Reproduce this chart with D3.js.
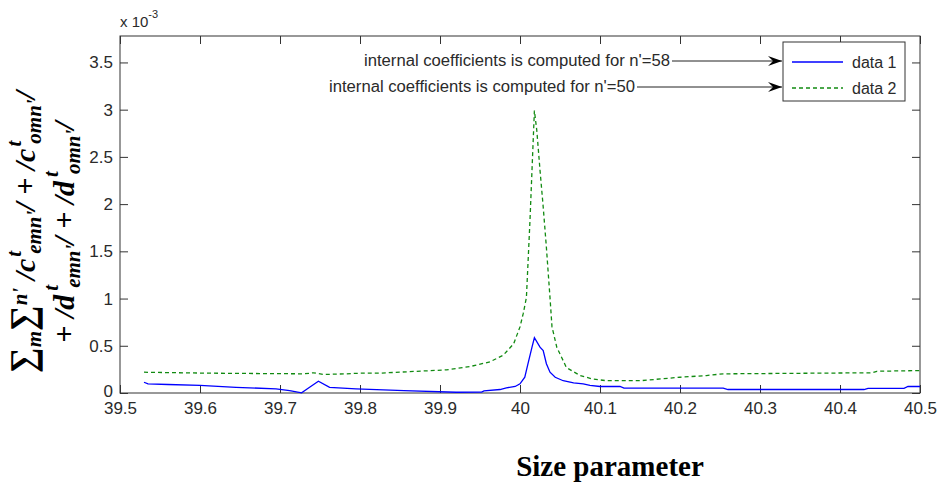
<!DOCTYPE html>
<html>
<head>
<meta charset="utf-8">
<script src="https://cdn.jsdelivr.net/npm/d3@7"></script>
<style>
  body { margin: 0; background: #fff; }
  svg text { font-family: "Liberation Sans", Arial, sans-serif; }
</style>
</head>
<body>
<div id="chart"></div>
<script>
// data 1 : internal coefficients computed for n'=58 (values x 1e-3)
var size1 = [39.53, 39.535, 39.56, 39.60, 39.645, 39.695, 39.712, 39.727, 39.737, 39.748,
  39.762, 39.795, 39.855, 39.92, 39.952, 39.955, 39.975, 39.983, 39.994, 40.000,
  40.006, 40.010, 40.015, 40.018, 40.025, 40.029, 40.033, 40.0375, 40.044, 40.054,
  40.067, 40.079, 40.0875, 40.10, 40.125, 40.13, 40.254, 40.26, 40.43, 40.435,
  40.48, 40.485, 40.5];
var data1 = [0.114, 0.097, 0.09, 0.08, 0.06, 0.044, 0.026, 0.002, 0.06, 0.125,
  0.06, 0.044, 0.026, 0.008, 0.010, 0.022, 0.037, 0.055, 0.069, 0.097,
  0.167, 0.31, 0.485, 0.585, 0.485, 0.45, 0.31, 0.22, 0.167, 0.13,
  0.108, 0.097, 0.08, 0.069, 0.069, 0.051, 0.051, 0.037, 0.037, 0.05,
  0.05, 0.069, 0.069];

// data 2 : internal coefficients computed for n'=50 (values x 1e-3)
var size2 = [39.53, 39.61, 39.73, 39.742, 39.754, 39.783, 39.80, 39.825, 39.867, 39.908,
  39.9375, 39.9625, 39.979, 39.992, 40.0, 40.004, 40.008, 40.0125, 40.017, 40.018,
  40.021, 40.025, 40.029, 40.033, 40.0375, 40.040, 40.046, 40.058, 40.075, 40.09,
  40.108, 40.15, 40.20, 40.233, 40.254, 40.44, 40.446, 40.5];
var data2 = [0.22, 0.21, 0.203, 0.214, 0.196, 0.203, 0.21, 0.21, 0.228, 0.245,
  0.28, 0.33, 0.40, 0.52, 0.70, 0.84, 1.01, 1.83, 2.78, 2.99,
  2.78, 2.36, 1.97, 1.54, 1.01, 0.70, 0.485, 0.27, 0.185, 0.15,
  0.13, 0.13, 0.167, 0.185, 0.203, 0.214, 0.23, 0.238];

var xTicks = [39.5, 39.6, 39.7, 39.8, 39.9, 40, 40.1, 40.2, 40.3, 40.4, 40.5];
var yTicks = [0, 0.5, 1, 1.5, 2, 2.5, 3, 3.5];
var seriesNames = ['data 1', 'data 2'];
var notes = ["internal coefficients is computed for n'=58", "internal coefficients is computed for n'=50"];

var W = 939, H = 487;
var margin = {left: 120, right: 19, top: 36, bottom: 94};
var width = W - margin.left - margin.right,
    height = H - margin.top - margin.bottom;

var svg = d3.select('#chart').append('svg')
  .attr('width', W).attr('height', H);

svg.append('defs').append('marker')
  .attr('id', 'arrow')
  .attr('viewBox', '0 0 14 10')
  .attr('refX', 14).attr('refY', 5)
  .attr('markerWidth', 14).attr('markerHeight', 10)
  .attr('markerUnits', 'userSpaceOnUse')
  .attr('orient', 'auto')
  .append('path')
  .attr('d', 'M0,0 L14,5 L0,10 L5,5 Z')
  .attr('fill', '#000');

var x = d3.scaleLinear().domain([39.5, 40.5]).range([0, width]);
var y = d3.scaleLinear().domain([0, 3.78]).range([height, 0]);

var g = svg.append('g')
  .attr('transform', 'translate(' + margin.left + ',' + margin.top + ')');

// frame
g.append('rect')
  .attr('width', width).attr('height', height)
  .attr('fill', 'none').attr('stroke', '#333').attr('stroke-width', 1);

// axes (ticks inward, mirrored)
var axisBottom = g.append('g')
  .attr('transform', 'translate(0,' + height + ')')
  .call(d3.axisBottom(x).tickValues(xTicks).tickSize(-8).tickPadding(12)
    .tickFormat(function(d) { return String(+d.toFixed(1)); }));
var axisTop = g.append('g')
  .call(d3.axisTop(x).tickValues(xTicks).tickSize(-8).tickFormat(''));
var axisLeft = g.append('g')
  .call(d3.axisLeft(y).tickValues(yTicks).tickSize(-8).tickPadding(7)
    .tickFormat(function(d) { return String(d); }));
var axisRight = g.append('g')
  .attr('transform', 'translate(' + width + ',0)')
  .call(d3.axisRight(y).tickValues(yTicks).tickSize(-8).tickFormat(''));

[axisBottom, axisTop, axisLeft, axisRight].forEach(function(a) {
  a.select('.domain').remove();
  a.selectAll('.tick line').attr('stroke', '#333');
  a.selectAll('.tick text')
    .attr('fill', '#2a2a2a')
    .style('font-size', '17px')
    .style('font-family', '"Liberation Sans", Arial, sans-serif');
});
axisBottom.selectAll('.tick text').attr('dy', '0.55em');
axisLeft.selectAll('.tick text').filter(function(d) { return d === 0; }).attr('dy', '0.2em');

// exponent label
var expo = svg.append('text')
  .attr('x', margin.left).attr('y', 27)
  .attr('fill', '#2a2a2a')
  .style('font-size', '15px');
expo.append('tspan').text('x 10');
expo.append('tspan').attr('dy', -9).style('font-size', '11px').text('-3');

// lines
var line = d3.line()
  .x(function(d) { return x(d[0]); })
  .y(function(d) { return y(d[1]); });

g.append('path')
  .datum(d3.zip(size2, data2))
  .attr('d', line)
  .attr('fill', 'none')
  .attr('stroke', '#118a11')
  .attr('stroke-width', 1.3)
  .attr('stroke-dasharray', '4,3');

g.append('path')
  .datum(d3.zip(size1, data1))
  .attr('d', line)
  .attr('fill', 'none')
  .attr('stroke', '#0000ff')
  .attr('stroke-width', 1.3);

// legend
var lg = svg.append('g').attr('transform', 'translate(783,42)');
lg.append('rect')
  .attr('width', 122).attr('height', 59)
  .attr('fill', '#fff').attr('stroke', '#333');
var styles = [{c: '#0000ff', dash: null}, {c: '#118a11', dash: '4,3'}];
seriesNames.forEach(function(name, i) {
  var yy = 20 + i * 26;
  lg.append('line')
    .attr('x1', 9).attr('x2', 60).attr('y1', yy).attr('y2', yy)
    .attr('stroke', styles[i].c).attr('stroke-width', 1.3)
    .attr('stroke-dasharray', styles[i].dash);
  lg.append('text')
    .attr('x', 69).attr('y', yy + 6)
    .attr('fill', '#2a2a2a')
    .style('font-size', '16px')
    .text(name);
});

// annotations with arrows
var noteY = [61, 87];
var noteEnd = [670, 635];
notes.forEach(function(t, i) {
  svg.append('text')
    .attr('x', noteEnd[i]).attr('y', noteY[i] + 5)
    .attr('text-anchor', 'end')
    .attr('fill', '#2a2a2a')
    .style('font-size', '16px')
    .attr('textLength', 306)
    .attr('lengthAdjust', 'spacingAndGlyphs')
    .text(t);
  svg.append('line')
    .attr('x1', noteEnd[i] + 2).attr('x2', 782)
    .attr('y1', noteY[i]).attr('y2', noteY[i])
    .attr('stroke', '#222').attr('stroke-width', 1)
    .attr('marker-end', 'url(#arrow)');
});

// x label
svg.append('text')
  .attr('x', 610).attr('y', 476)
  .attr('text-anchor', 'middle')
  .style('font-family', '"Liberation Serif", "Times New Roman", serif')
  .style('font-weight', 'bold')
  .style('font-size', '29px')
  .text('Size parameter');

// y label (two lines, TeX-like)
function addPart(txt, parts) {
  parts.forEach(function(p) {
    var ts = txt.append('tspan').text(p.t);
    if (p.dy) ts.attr('dy', p.dy);
    if (p.dx) ts.attr('dx', p.dx);
    if (p.fs) ts.style('font-size', p.fs);
  });
}
var yl = svg.append('g').attr('transform', 'translate(0,232) rotate(-90)');
var l1 = yl.append('text')
  .attr('x', 0).attr('y', 35)
  .attr('text-anchor', 'middle')
  .style('font-family', '"Liberation Serif", "Times New Roman", serif')
  .style('font-weight', 'bold').style('font-style', 'italic')
  .style('font-size', '30px');
addPart(l1, [
  {t: '\u2211', fs: '36px'},
  {t: 'm', fs: '21px', dy: 6},
  {t: '\u2211', fs: '36px', dy: -6},
  {t: "n'", fs: '21px', dy: -8},
  {t: ' /c', dy: 8},
  {t: 't', fs: '21px', dy: -14, dx: 2},
  {t: "emn'", fs: '21px', dy: 20, dx: -3},
  {t: '/ + /c', dy: -6},
  {t: 't', fs: '21px', dy: -14, dx: 2},
  {t: "omn'", fs: '21px', dy: 20, dx: -3},
  {t: '/', dy: -6}
]);
var l2 = yl.append('text')
  .attr('x', 0).attr('y', 74)
  .attr('text-anchor', 'middle')
  .style('font-family', '"Liberation Serif", "Times New Roman", serif')
  .style('font-weight', 'bold').style('font-style', 'italic')
  .style('font-size', '30px');
addPart(l2, [
  {t: '+ /d'},
  {t: 't', fs: '21px', dy: -16, dx: 4},
  {t: "emn'", fs: '21px', dy: 22, dx: -3},
  {t: '/ + /d', dy: -6},
  {t: 't', fs: '21px', dy: -16, dx: 4},
  {t: "omn'", fs: '21px', dy: 22, dx: -3},
  {t: '/', dy: -6}
]);
</script>
</body>
</html>
